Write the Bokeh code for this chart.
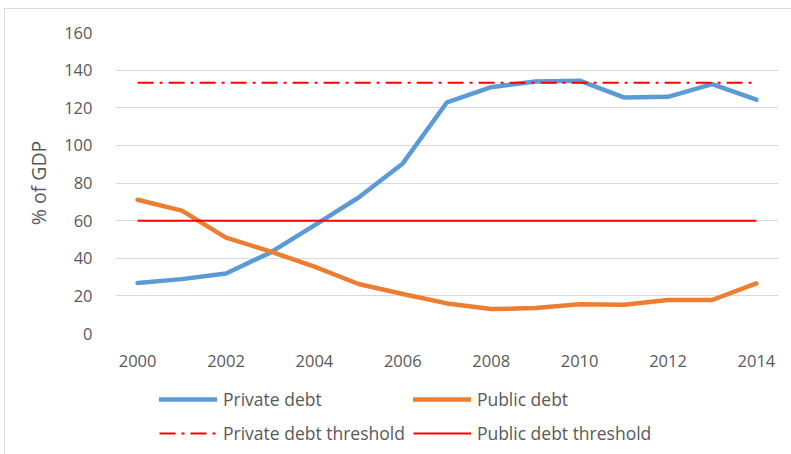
from bokeh.plotting import figure
from bokeh.layouts import column
from bokeh.models import Range1d, FixedTicker, Legend, LegendItem
from bokeh.embed import file_html
from bokeh.resources import INLINE

years = list(range(2000, 2015))
private_debt = [26.8, 28.9, 31.9, 43.0, 57.5, 72.3, 90.4, 122.9, 130.9, 134.0, 134.4, 125.5, 125.8, 132.6, 124.3]
public_debt = [71.1, 65.3, 51.0, 43.6, 35.5, 26.3, 21.0, 16.0, 13.0, 13.5, 15.6, 15.3, 17.8, 17.8, 26.6]
private_threshold = [133.3] * len(years)
public_threshold = [60.0] * len(years)
y_ticks = [0, 20, 40, 60, 80, 100, 120, 140, 160]
x_ticks = [2000, 2002, 2004, 2006, 2008, 2010, 2012, 2014]
labels = ["Private debt", "Public debt", "Private debt threshold", "Public debt threshold"]

FONT = "Open Sans"
TXT = "#595959"
BLUE, ORANGE, RED = "#5B9BD5", "#ED7D31", "#FF0000"

p = figure(width=786, height=372, output_backend="svg", toolbar_location=None,
           x_range=Range1d(1999.5, 2014.5), y_range=Range1d(0, 160),
           min_border_left=110, min_border_right=13, min_border_top=23, min_border_bottom=48)
p.outline_line_color = None
p.xgrid.grid_line_color = None
p.ygrid.grid_line_color = "#d9d9d9"
p.ygrid.grid_line_width = 1.2

p.xaxis.ticker = FixedTicker(ticks=x_ticks)
p.yaxis.ticker = FixedTicker(ticks=y_ticks)
for ax in (p.xaxis[0], p.yaxis[0]):
    ax.axis_line_color = None
    ax.major_tick_line_color = None
    ax.minor_tick_line_color = None
    ax.major_label_text_font = FONT
    ax.major_label_text_font_size = "16.5px"
    ax.major_label_text_color = TXT
p.xaxis.major_label_standoff = 15
p.yaxis.major_label_standoff = 17
p.yaxis.axis_label = "% of GDP"
p.yaxis.axis_label_text_font = FONT
p.yaxis.axis_label_text_font_size = "19.5px"
p.yaxis.axis_label_text_font_style = "normal"
p.yaxis.axis_label_text_color = TXT
p.yaxis.axis_label_standoff = 9

styles = [dict(line_color=BLUE, line_width=4.5, line_cap="round", line_join="round"),
          dict(line_color=ORANGE, line_width=4.5, line_cap="round", line_join="round"),
          dict(line_color=RED, line_width=2, line_dash="16 6 3 6"),
          dict(line_color=RED, line_width=2)]
series = [private_debt, public_debt, private_threshold, public_threshold]

for s, st in zip(series, styles):
    p.line(years, s, **st)

# legend strip (second canvas) -- same series, legend only
pl = figure(width=786, height=73, output_backend="svg", toolbar_location=None,
            x_range=Range1d(0, 1), y_range=Range1d(0, 1),
            min_border_left=0, min_border_right=0, min_border_top=0, min_border_bottom=0)
pl.axis.visible = False
pl.grid.visible = False
pl.outline_line_color = None
rs = [pl.line(years, s, **st) for s, st in zip(series, styles)]

legend = Legend(items=[LegendItem(label=l, renderers=[r]) for l, r in zip(labels, rs)],
                orientation="horizontal", ncols=2, location=(44, 8),
                padding=0, margin=0, spacing=8, glyph_width=58, glyph_height=26, label_height=26,
                label_standoff=6, label_text_font=FONT, label_text_font_size="17.5px",
                label_text_color=TXT, border_line_color=None, background_fill_alpha=0)
pl.add_layout(legend, "center")

layout = column(p, pl, spacing=0)
layout.styles = {"margin-left": "4px", "margin-top": "8px",
                 "border-left": "1px solid #d9d9d9", "border-top": "1px solid #d9d9d9"}

open("out.html", "w").write(file_html(layout, INLINE))
